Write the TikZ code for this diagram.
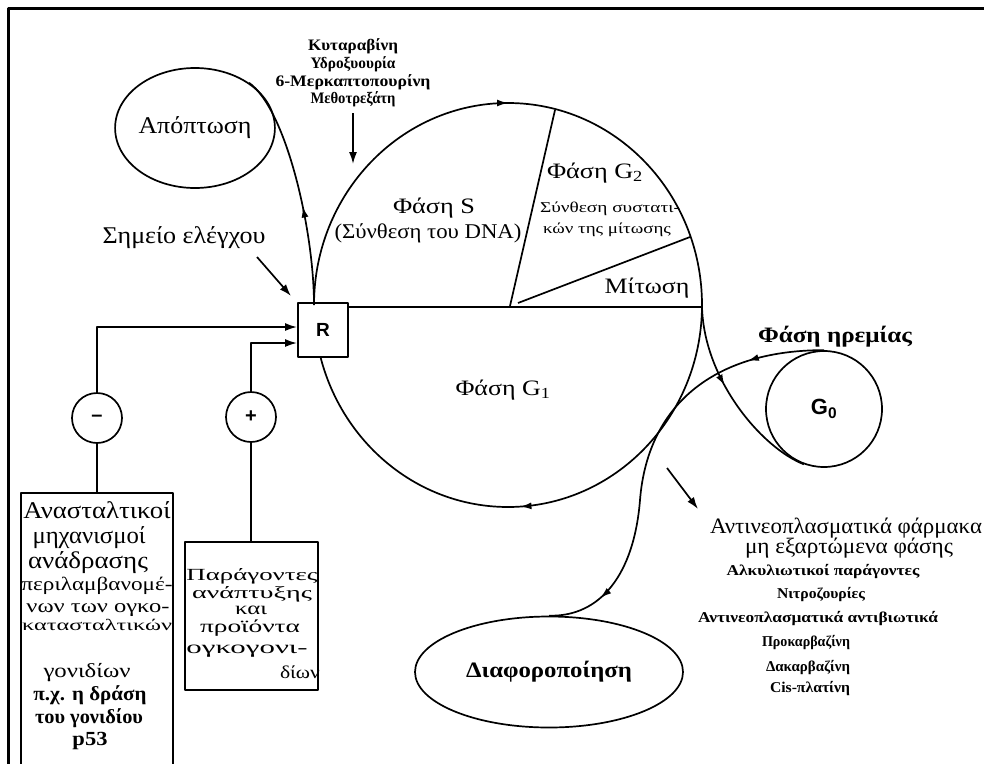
\documentclass[tikz,border=0pt]{standalone}
\usepackage{fontspec}
\setmainfont{Liberation Serif}
\setsansfont{Liberation Sans}
\usepackage{graphicx}
\usetikzlibrary{arrows.meta,decorations.markings,shapes.geometric,calc}
% #1 font size, #2 target width, #3 text (horizontal scaling only)
\newcommand\fw[3]{\resizebox{#2pt}{\height}{\fontsize{#1}{#1}\selectfont #3}}
\begin{document}
\begin{tikzpicture}[x=1pt,y=-1pt,line width=1.7pt,line join=round,
  font=\fontsize{20}{24}\selectfont,
  lab/.style={inner sep=0pt,anchor=base},
  arr/.style={-{Latex[length=12pt,width=8pt]}},
  marr/.style={postaction={decorate},decoration={markings,
    mark=at position #1 with {\arrow{Latex[length=11pt,width=7pt]}}}},
  marrtwo/.style 2 args={postaction={decorate},decoration={markings,
    mark=at position #1 with {\arrow{Latex[length=11pt,width=7pt]}},
    mark=at position #2 with {\arrow{Latex[length=11pt,width=7pt]}}}},
  boxn/.style={draw,inner sep=0pt},
  ring/.style={draw,circle,inner sep=0pt}]
\useasboundingbox (0,0) rectangle (984,763);
\fill[white] (0,0) rectangle (984,763);
\clip (0,0) rectangle (984,763);
% frame
\draw[line width=3pt] (8.5,790) -- (8.5,8.5) -- (1000,8.5);

% cell cycle
\draw[marrtwo={0.24}{0.75}] (508,305) ellipse [x radius=194, y radius=202];
\coordinate (cL) at (314,305);
\coordinate (cR) at (702,307);
\coordinate (cS) at (510,306);
\coordinate (cM) at (518,303);
\coordinate (sTop) at (555,110);
\coordinate (mEnd) at (690,237);
\draw (cS) -- (sTop);
\draw (cM) -- (mEnd);

% R box
\node[boxn,fill=white,line width=2pt,minimum width=50pt,minimum height=54pt] (R) at (323,330)
  {\sffamily\bfseries\fontsize{19}{19}\selectfont R};
\draw (R.east |- cR) -- (cR);

% apoptosis
\node[draw,ellipse,minimum width=156pt,minimum height=120pt,inner sep=0pt] (apo) at (195,128)
  {\fw{24}{113}{Απόπτωση}};
\draw[marr=0.42] (cL) .. controls +(0,-75) and +(37,26) .. (apo.40);

% G0
\node[ring,minimum size=116pt] (g0) at (824,409)
  {\sffamily\bfseries\fontsize{22}{22}\selectfont G\textsubscript{0}};
\node[lab] (hrem) at (835,342) {\fw{22}{154}{\bfseries Φάση ηρεμίας}};

% differentiation
\node[draw,ellipse,minimum width=268pt,minimum height=111pt,inner sep=0pt] (diaf) at (549,672)
  {\fw{22}{166}{\bfseries Διαφοροποίηση}};

\draw[marr=0.42] (cR) .. controls (704,380) and (762,448) .. (g0.250);
\draw[marrtwo={0.18}{0.87}] (g0.north) .. controls (720,350) and (648,400) .. (640,500)
  .. controls (634,575) and (600,617) .. (diaf.north);

% phase labels
\node[lab] (sph) at (434,213) {\fw{22}{82}{Φάση S}};
\node[lab] (sph2) at (428,238) {\fw{21}{187}{(Σύνθεση του DNA)}};
\node[lab] (g2) at (595,178) {\fw{22}{96}{Φάση G\textsubscript{2}}};
\node[lab] (g2a) at (610,212) {\fw{15}{140}{Σύνθεση συστατι-}};
\node[lab] (g2b) at (607,233) {\fw{15}{128}{κών της μίτωσης}};
\node[lab] (mit) at (647,293) {\fw{22}{85}{Μίτωση}};
\node[lab] (g1) at (503,395) {\fw{22}{95}{Φάση G\textsubscript{1}}};

% top drugs
\node[lab] (d1) at (353,50) {\fw{16}{90}{\bfseries Κυταραβίνη}};
\node[lab] (d2) at (353,68) {\fw{16}{85}{\bfseries Υδροξυουρία}};
\node[lab] (d3) at (353,86) {\fw{16}{155}{\bfseries 6-Μερκαπτοπουρίνη}};
\node[lab] (d4) at (353,103) {\fw{16}{85}{\bfseries Μεθοτρεξάτη}};
\coordinate (dA) at (353,113);
\coordinate (dB) at (353,164);
\draw[arr] (dA) -- (dB);

% checkpoint
\node[lab] (chk) at (184,243) {\fw{24}{163}{Σημείο ελέγχου}};
\coordinate (ceA) at (257,257);
\coordinate (ceB) at (291,296);
\draw[arr] (ceA) -- (ceB);

% regulators
\node[ring,minimum size=50pt] (neg) at (97,418) {\sffamily\bfseries –};
\node[ring,minimum size=50pt] (pos) at (251,417) {\sffamily\bfseries +};
\draw[arr] (neg.north) |- (R.west |- 0,327);
\draw[arr] (pos.north) |- (R.west |- 0,343);

\node[boxn,anchor=north,minimum width=152pt,minimum height=300pt] (b1) at (97,492) {};
\node[boxn,minimum width=133pt,minimum height=148pt] (b2) at (251.5,616) {};
\draw (neg.south) -- (b1.north);
\draw (pos.south) -- (pos.south |- b2.north);

\node[lab] (b1a) at (97,518) {\fw{24}{147}{Ανασταλτικοί}};
\node[lab] (b1b) at (89,543) {\fw{24}{113}{μηχανισμοί}};
\node[lab] (b1c) at (88,568) {\fw{24}{120}{ανάδρασης}};
\node[lab] (b1d) at (97,590) {\fw{19}{151}{περιλαμβανομέ-}};
\node[lab] (b1e) at (98,612) {\fw{19}{143}{νων των ογκο-}};
\node[lab] (b1f) at (97,630) {\fw{16}{150}{κατασταλτικών}};
\node[lab] (b1g) at (87,677) {\fw{20}{87}{γονιδίων}};
\node[lab] (b1h) at (90,700) {\fw{20}{113}{\bfseries π.χ. η δράση}};
\node[lab] (b1i) at (89,723) {\fw{20}{108}{\bfseries του γονιδίου}};
\node[lab] (b1j) at (90,745) {\fw{20}{35}{\bfseries p53}};

\node[lab] (b2a) at (252,580) {\fw{17}{131}{Παράγοντες}};
\node[lab] (b2b) at (252,598) {\fw{17}{120}{ανάπτυξης}};
\node[lab] (b2c) at (251,614) {\fw{18}{32}{και}};
\node[lab] (b2d) at (250,632) {\fw{18}{100}{προϊόντα}};
\node[lab] (b2e) at (247,653) {\fw{18}{121}{ογκογονι-}};
\node[lab] (b2f) at (300,678) {\fw{18}{40}{δίων}};

% right drug list
\coordinate (rA) at (667,468);
\coordinate (rB) at (698,509);
\draw[arr] (rA) -- (rB);
\node[lab] (r1) at (846,533) {\fw{22}{272}{Αντινεοπλασματικά φάρμακα}};
\node[lab] (r2) at (849,553) {\fw{22}{208}{μη εξαρτώμενα φάσης}};
\node[lab] (r3) at (823,575) {\fw{15}{193}{\bfseries Αλκυλιωτικοί παράγοντες}};
\node[lab] (r4) at (821,598) {\fw{15}{88}{\bfseries Νιτροζουρίες}};
\node[lab] (r5) at (818,622) {\fw{15}{240}{\bfseries Αντινεοπλασματικά αντιβιωτικά}};
\node[lab] (r6) at (806,646) {\fw{15}{88}{\bfseries Προκαρβαζίνη}};
\node[lab] (r7) at (808,671) {\fw{15}{84}{\bfseries Δακαρβαζίνη}};
\node[lab] (r8) at (810,692) {\fw{15}{80}{\bfseries Cis-πλατίνη}};
\end{tikzpicture}
\end{document}
